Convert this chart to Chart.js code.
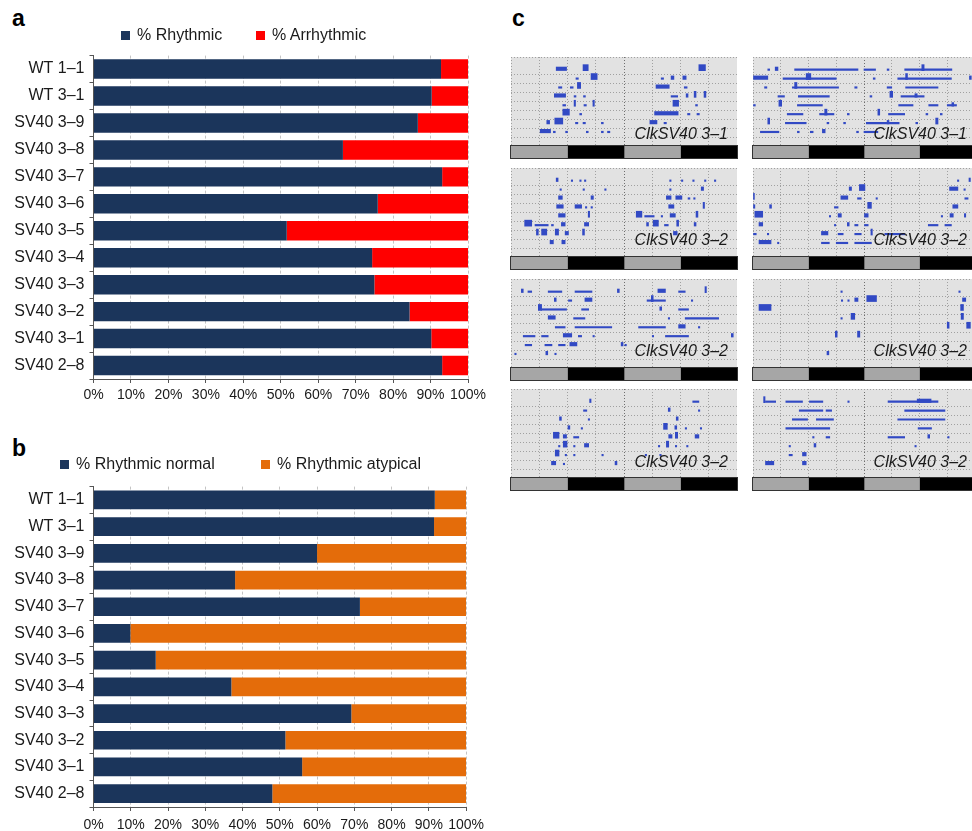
<!DOCTYPE html>
<html>
<head>
<meta charset="utf-8">
<script src="https://cdn.jsdelivr.net/npm/chart.js@4.4.0/dist/chart.umd.min.js"></script>
<style>
  body { margin: 0; background: #fff; font-family: "Liberation Sans", Arial, sans-serif; }
  #page { position: relative; width: 972px; height: 831px; overflow: hidden; }
  canvas { position: absolute; }
  .letter { position: absolute; font-weight: bold; font-size: 23px; line-height: 23px; color: #000; }
  .legend-item { position: absolute; font-size: 16px; line-height: 18px; color: #1a1a1a; white-space: nowrap; }
  .legend-box { position: absolute; width: 9px; height: 9px; }
  .acto-label { position: absolute; font-style: italic; font-size: 16px; line-height: 18px; color: #1a1a1a; text-align: right; white-space: nowrap; }
  .ld { outline: 1px solid #333; }
</style>
</head>
<body>
<div id="page">
  <div class="letter" style="left:12px; top:7px;">a</div>
  <div class="letter" style="left:12px; top:437px;">b</div>
  <div class="letter" style="left:512px; top:7px;">c</div>
  <canvas id="chartA" width="490" height="369" style="left:0; top:41px;"></canvas>
  <canvas id="chartB" width="490" height="359" style="left:0; top:472px;"></canvas>
</div>
<script>
// panel a / b data
const strains = ['WT 1–1', 'WT 3–1', 'SV40 3–9', 'SV40 3–8', 'SV40 3–7', 'SV40 3–6',
                 'SV40 3–5', 'SV40 3–4', 'SV40 3–3', 'SV40 3–2', 'SV40 3–1', 'SV40 2–8'];
const pctRhythmic = [92.8, 90.3, 86.6, 66.6, 93.1, 75.9, 51.6, 74.4, 75.0, 84.4, 90.2, 93.1];
const pctArrhythmic = [7.2, 9.7, 13.4, 33.4, 6.9, 24.1, 48.4, 25.6, 25.0, 15.6, 9.8, 6.9];
const pctNormal = [91.6, 91.4, 60.0, 38.0, 71.5, 9.9, 16.7, 37.0, 69.2, 51.5, 56.0, 48.0];
const pctAtypical = [8.4, 8.6, 40.0, 62.0, 28.5, 90.1, 83.3, 63.0, 30.8, 48.5, 44.0, 52.0];

// panel c: activity blips [row, start hour, end hour, height level]
const acto1 = [
  [1,9.6,11.8,2],[1,15.3,16.4,3],[1,39.9,41.3,3],
  [2,13.8,14.3,1],[2,17.0,18.3,3],[2,31.9,32.4,1],[2,34.0,34.6,2],[2,36.5,37.2,2],
  [3,10.1,10.8,1],[3,12.6,13.2,1],[3,14.1,14.8,3],[3,30.8,33.6,2],[3,36.8,37.4,1],
  [4,9.2,11.6,2],[4,13.4,13.8,1],[4,15.4,15.8,1],[4,34.0,35.4,1],[4,37.2,37.6,2],[4,38.9,39.3,3],[4,41.0,41.4,3],
  [5,11.0,11.6,1],[5,13.4,13.7,3],[5,15.5,16.0,1],[5,17.4,17.7,3],[5,34.4,35.6,3],[5,39.2,39.6,1],
  [6,11.0,12.4,3],[6,14.6,15.0,1],[6,30.5,35.5,2],[6,37.5,38.0,1],[6,39.5,40.0,1],
  [7,7.6,8.2,2],[7,9.3,11.0,3],[7,13.7,14.2,1],[7,15.3,15.8,1],[7,19.2,19.6,1],[7,29.5,31.0,2],[7,32.5,33.0,1],
  [8,6.2,8.4,2],[8,9.0,9.4,1],[8,11.6,12.0,1],[8,16.0,16.4,1],[8,19.2,19.6,1],[8,20.5,21.0,1]
];
const acto2 = [
  [1,3.2,3.6,1],[1,4.8,5.4,2],[1,9.0,22.7,1],[1,24.0,26.5,1],[1,29.0,29.4,1],[1,32.8,43.0,1],[1,36.5,37.0,3],
  [2,0.0,3.2,2],[2,6.5,18.0,1],[2,11.5,12.5,3],[2,26.0,26.4,1],[2,31.3,42.9,1],[2,33.0,33.4,3],[2,46.8,47.2,2],
  [3,2.5,3.0,1],[3,8.5,18.5,1],[3,9.0,9.5,3],[3,22.0,22.5,1],[3,29.0,30.0,1],[3,33.0,40.0,1],
  [4,5.4,6.8,1],[4,9.8,16.5,1],[4,25.3,25.7,1],[4,29.6,30.2,3],[4,32.0,37.0,1],[4,35.0,35.5,2],
  [5,0.0,0.5,1],[5,5.6,6.2,3],[5,9.6,15.0,1],[5,31.5,34.6,1],[5,38.0,40.0,1],[5,42.0,44.0,1],[5,43.0,43.4,2],
  [6,7.4,10.8,1],[6,14.4,17.5,1],[6,15.5,16.0,3],[6,20.4,20.8,1],[6,27.0,27.4,3],[6,29.3,32.8,1],[6,37.4,37.8,1],[6,40.5,40.9,1],
  [7,3.2,3.6,3],[7,7.0,11.5,1],[7,16.0,16.4,1],[7,19.6,20.0,1],[7,24.5,31.6,1],[7,29.0,29.4,2],[7,35.2,35.6,1],[7,39.5,40.0,3],
  [8,1.6,5.6,1],[8,9.6,10.0,1],[8,12.4,13.0,1],[8,15.0,15.6,2],[8,22.4,22.8,1],[8,24.0,27.0,1]
];
const acto3 = [
  [1,9.6,10.0,2],[1,12.8,13.1,1],[1,14.6,14.9,1],[1,15.6,15.9,1],[1,33.7,34.0,1],[1,36.2,36.5,1],[1,38.6,38.9,1],[1,41.1,41.4,1],[1,43.2,43.5,1],
  [2,10.4,10.7,1],[2,15.3,15.6,1],[2,19.9,20.2,1],[2,33.7,34.0,1],[2,40.4,40.9,2],
  [3,10.1,10.9,2],[3,17.0,17.5,2],[3,33.0,34.0,2],[3,35.0,36.3,2],[3,37.6,38.0,1],[3,38.8,39.1,1],
  [4,9.7,11.1,2],[4,13.6,15.0,2],[4,15.8,16.1,1],[4,17.0,17.3,1],[4,33.5,34.6,2],[4,40.8,41.1,3],
  [5,10.1,11.5,2],[5,16.4,16.7,3],[5,26.6,27.8,3],[5,28.4,30.4,1],[5,31.9,32.2,1],[5,33.8,34.9,2],[5,39.3,39.7,3],
  [6,2.9,4.4,3],[6,5.1,7.9,1],[6,8.6,9.0,1],[6,10.7,11.5,2],[6,15.6,16.5,2],[6,28.8,29.2,2],[6,30.2,31.3,3],[6,32.6,33.4,1],[6,35.2,35.6,3],[6,38.9,39.3,2],
  [7,5.4,5.8,3],[7,6.5,7.6,3],[7,9.4,10.1,3],[7,11.5,12.2,2],[7,15.2,15.6,3],[7,34.5,35.3,2],
  [8,8.3,9.0,2],[8,10.8,11.5,2]
];
const acto4 = [
  [1,44.2,44.5,1],[1,46.7,47.0,2],
  [2,20.8,21.3,2],[2,23.0,24.2,3],[2,42.5,44.3,2],[2,45.6,45.9,1],
  [3,0.0,0.3,3],[3,19.0,20.5,2],[3,22.6,23.4,1],[3,26.6,26.9,1],[3,45.8,46.5,1],
  [4,0.0,0.4,2],[4,3.6,4.0,2],[4,17.6,18.4,1],[4,24.8,25.6,3],[4,43.2,44.3,2],
  [5,0.4,2.1,3],[5,16.5,16.8,1],[5,18.4,19.1,2],[5,24.1,24.9,2],[5,40.7,41.0,1],[5,42.6,43.3,2],[5,45.7,46.0,2],
  [6,1.3,2.1,2],[6,17.6,17.9,1],[6,20.4,20.8,2],[6,22.0,22.7,1],[6,24.1,24.9,1],[6,37.9,40.0,1],[6,41.5,42.9,1],
  [7,0.0,0.7,1],[7,3.1,3.4,1],[7,14.8,16.2,2],[7,18.4,19.5,1],[7,22.0,23.4,1],[7,25.5,25.8,3],[7,28.5,32.8,1],
  [8,1.3,3.9,2],[8,5.3,5.6,1],[8,14.8,16.5,1],[8,18.0,20.5,1],[8,22.0,25.6,1]
];
const acto5 = [
  [1,2.2,2.6,2],[1,3.6,4.4,1],[1,7.9,10.8,1],[1,13.6,17.2,1],[1,22.6,23.0,2],[1,31.2,32.8,2],[1,35.6,37.0,1],[1,41.2,41.5,3],
  [2,9.2,9.6,2],[2,12.2,12.9,1],[2,15.7,17.2,2],[2,28.9,32.8,1],[2,29.8,30.2,3],[2,38.3,38.6,1],
  [3,5.8,6.5,3],[3,6.5,11.8,1],[3,15.0,16.5,1],[3,31.6,32.0,2],[3,35.6,37.7,1],
  [4,7.9,9.4,2],[4,13.3,15.7,1],[4,33.4,33.7,1],[4,37.0,44.1,1],
  [5,9.4,11.5,1],[5,13.6,21.4,1],[5,27.1,32.8,1],[5,35.6,37.0,2],[5,39.8,40.1,1],
  [6,2.6,5.1,1],[6,6.5,7.9,1],[6,11.1,12.9,2],[6,14.3,15.0,1],[6,17.4,17.7,1],[6,30.0,30.3,1],[6,32.8,37.7,1],[6,46.8,47.2,2],
  [7,3.0,4.4,1],[7,7.2,8.7,1],[7,10.1,11.5,1],[7,12.5,14.0,2],[7,23.4,23.8,2],[7,24.2,24.5,1],
  [8,0.8,1.1,1],[8,7.4,7.8,2],[8,9.3,9.6,1]
];
const acto6 = [
  [1,19.0,19.3,1],[1,44.5,44.8,1],
  [2,19.1,19.4,1],[2,20.5,20.8,1],[2,22.0,22.7,2],[2,24.6,26.7,3],[2,45.3,46.0,2],
  [3,1.3,3.9,3],[3,44.9,45.5,3],
  [4,19.0,19.3,1],[4,21.2,22.0,3],[4,45.0,45.5,3],
  [5,42.0,42.4,3],[5,46.2,47.0,3],
  [6,17.8,18.2,3],[6,22.6,23.1,3],
  [8,16.0,16.4,2]
];
const acto7 = [
  [1,16.7,17.0,2],[1,38.6,39.9,1],
  [2,15.4,16.1,1],[2,33.4,33.8,2],[2,39.8,40.1,1],
  [3,10.3,10.7,2],[3,16.4,16.7,1],[3,35.1,35.5,2],
  [4,12.1,12.5,2],[4,14.9,15.2,1],[4,32.4,33.2,3],[4,34.8,35.2,2],[4,37.0,37.3,1],[4,40.2,40.5,1],
  [5,9.0,10.2,3],[5,11.1,11.8,2],[5,13.3,14.4,1],[5,33.5,34.2,2],[5,34.9,35.4,3],[5,39.1,39.9,2],
  [6,10.1,10.4,1],[6,11.1,11.9,3],[6,13.3,13.6,1],[6,15.6,16.5,2],[6,31.3,31.6,1],[6,33.0,33.5,3],[6,34.9,35.2,1],[6,37.3,37.6,1],
  [7,9.4,10.2,3],[7,11.5,11.8,1],[7,13.3,13.6,1],[7,19.3,19.6,1],[7,28.5,28.8,1],[7,31.6,31.9,1],
  [8,8.6,9.5,2],[8,11.1,11.4,1],[8,22.1,22.5,2]
];
const acto8 = [
  [1,2.3,2.6,3],[1,2.7,4.9,1],[1,7.1,10.7,1],[1,12.2,15.1,1],[1,20.5,20.8,1],[1,29.2,40.0,1],[1,35.5,38.5,2],
  [2,10.0,15.1,1],[2,15.8,17.0,1],[2,32.8,41.5,1],
  [3,8.5,11.8,1],[3,13.7,17.4,1],[3,31.3,41.5,1],
  [4,7.1,16.6,1],[4,35.7,38.6,1],
  [5,12.9,13.2,1],[5,15.8,16.6,1],[5,29.2,32.8,1],[5,37.8,38.2,2],[5,42.1,42.4,1],
  [6,7.8,8.1,1],[6,13.2,13.6,2],[6,35.0,35.3,1],
  [7,7.8,8.5,1],[7,10.7,11.5,2],
  [8,2.7,4.5,2],[8,10.7,11.5,2]
];
const actoData = [acto1, acto2, acto3, acto4, acto5, acto6, acto7, acto8];
const actoLabels = ['ClkSV40 3–1', 'ClkSV40 3–1', 'ClkSV40 3–2', 'ClkSV40 3–2',
                    'ClkSV40 3–2', 'ClkSV40 3–2', 'ClkSV40 3–2', 'ClkSV40 3–2'];
// light/dark schedule under each actogram (hours)
const ldHours = [12, 12, 12, 12];
const ldColors = ['#a6a6a6', '#000000', '#a6a6a6', '#000000'];

Chart.defaults.font.family = '"Liberation Sans", Arial, sans-serif';
Chart.defaults.color = '#1a1a1a';

const page = document.getElementById('page');

function barPanel(id, first, second, names, colors, opts) {
    const chart = new Chart(document.getElementById(id), {
        type: 'bar',
        data: {
            labels: strains,
            datasets: [
                { label: names[0], data: first, backgroundColor: colors[0], barPercentage: opts.bar, categoryPercentage: 1 },
                { label: names[1], data: second, backgroundColor: colors[1], barPercentage: opts.bar, categoryPercentage: 1 }
            ]
        },
        options: {
            indexAxis: 'y',
            responsive: false,
            animation: false,
            layout: { padding: { top: 6, right: opts.padRight, left: 0, bottom: 0 } },
            plugins: { legend: { display: false }, tooltip: { enabled: false } },
            scales: {
                x: {
                    stacked: true, min: 0, max: 100,
                    ticks: { stepSize: 10, autoSkip: false, maxRotation: 0, padding: opts.tickPad,
                             font: { size: 14 }, callback: v => v + '%' },
                    grid: { color: '#c4c4c4', tickColor: '#555', tickLength: 4 },
                    border: { color: '#555', dash: [3, 2] },
                    afterFit: s => { s.height = opts.xHeight; }
                },
                y: {
                    stacked: true,
                    ticks: { font: { size: 16 }, padding: 5 },
                    grid: { drawOnChartArea: false, tickColor: '#555', tickLength: 4 },
                    border: { color: '#555' },
                    afterFit: s => { s.width = 93.5; }
                }
            }
        }
    });

    // legend built from the datasets
    chart.data.datasets.forEach((ds, i) => {
        const box = document.createElement('div');
        box.className = 'legend-box';
        box.style.left = opts.legendX[i] + 'px';
        box.style.top = (opts.legendY - 4.5) + 'px';
        box.style.background = ds.backgroundColor;
        page.appendChild(box);
        const txt = document.createElement('div');
        txt.className = 'legend-item';
        txt.textContent = ds.label;
        txt.style.left = (opts.legendX[i] + 16) + 'px';
        txt.style.top = (opts.legendY - 9) + 'px';
        page.appendChild(txt);
    });
    return chart;
}

barPanel('chartA', pctRhythmic, pctArrhythmic, ['% Rhythmic', '% Arrhythmic'], ['#1b355b', '#ff0000'],
    { bar: 0.72, padRight: 22, tickPad: 4, xHeight: 31, legendX: [121, 256], legendY: 35 });
barPanel('chartB', pctNormal, pctAtypical, ['% Rhythmic normal', '% Rhythmic atypical'], ['#1b355b', '#e46c0a'],
    { bar: 0.70, padRight: 18, tickPad: 6, xHeight: 24, legendX: [60, 261], legendY: 464 });

// Actograms
const actoBg = {
    id: 'actoBg',
    beforeDraw(chart) {
        const { ctx, chartArea: a } = chart;
        ctx.save();
        ctx.fillStyle = '#e2e2e2';
        ctx.fillRect(a.left, a.top, a.width, a.height);
        ctx.restore();
    }
};

const ACT_H = 89;
const levelPx = [1.5, 3.5, 6];

function addCanvas(left, top, w, h, cls) {
    const c = document.createElement('canvas');
    c.width = w; c.height = h;
    c.style.left = left + 'px';
    c.style.top = top + 'px';
    if (cls) c.className = cls;
    page.appendChild(c);
    return c;
}

function actogram(left, top, w, segs, label, labelRight, labelMid) {
    const unit = ACT_H / 9;
    const datasets = levelPx.map((px, li) => ({
        data: segs.filter(s => s[3] === li + 1)
                  .map(s => ({ x: [s[1], s[2]], y: 9 - s[0] + px / 2 / unit })),
        backgroundColor: '#3149c4',
        barThickness: px,
        grouped: false
    }));
    new Chart(addCanvas(left, top, w, ACT_H), {
        type: 'bar',
        data: { datasets },
        options: {
            indexAxis: 'y',
            responsive: false,
            animation: false,
            layout: { padding: 0 },
            plugins: { legend: { display: false }, tooltip: { enabled: false } },
            scales: {
                x: {
                    type: 'linear', min: 0, max: 48,
                    ticks: { display: false, stepSize: 6 },
                    grid: { drawTicks: false, color: c => c.tick && c.tick.value === 24 ? '#6e6e6e' : '#a0a0a0' },
                    border: { display: false, dash: [1, 2] },
                    afterFit: s => { s.height = 0; }
                },
                y: {
                    type: 'linear', min: 0, max: 9,
                    ticks: { display: false, stepSize: 1 },
                    grid: { drawTicks: false, color: c => c.tick && (c.tick.value === 0 || c.tick.value === 9) ? 'rgba(0,0,0,0)' : '#a0a0a0' },
                    border: { display: false, dash: [1, 2] },
                    afterFit: s => { s.width = 0; }
                }
            }
        },
        plugins: [actoBg]
    });

    // LD bar
    new Chart(addCanvas(left, top + ACT_H, w, 12, 'ld'), {
        type: 'bar',
        data: {
            labels: [''],
            datasets: ldHours.map((hrs, i) => ({
                data: [hrs], backgroundColor: ldColors[i],
                barPercentage: 1, categoryPercentage: 1, borderWidth: 0
            }))
        },
        options: {
            indexAxis: 'y',
            responsive: false,
            animation: false,
            layout: { padding: 0 },
            plugins: { legend: { display: false }, tooltip: { enabled: false } },
            scales: {
                x: { stacked: true, min: 0, max: 48, display: false },
                y: { stacked: true, display: false }
            }
        }
    });

    const lab = document.createElement('div');
    lab.className = 'acto-label';
    lab.textContent = label;
    lab.style.left = left + 'px';
    lab.style.width = (labelRight - left) + 'px';
    lab.style.top = (labelMid - 9) + 'px';
    page.appendChild(lab);
}

const rowTops = [57, 168, 279, 389];
const labelMids = [134, 240, 351, 462];
actoData.forEach((segs, i) => {
    const row = Math.floor(i / 2);
    const right = i % 2 === 1;
    actogram(right ? 753 : 511, rowTops[row], right ? 222 : 226, segs, actoLabels[i],
             right ? 967 : 728, labelMids[row]);
});
</script>
</body>
</html>
